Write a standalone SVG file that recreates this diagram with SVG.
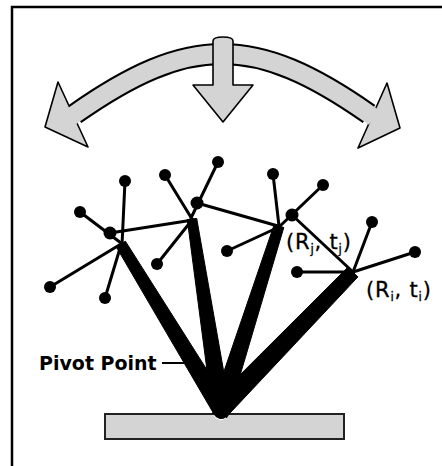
<svg xmlns="http://www.w3.org/2000/svg" width="442" height="466" viewBox="0 0 442 466">
  <style>
    .frame { fill: none; stroke: #000; stroke-width: 2.5; }
    .band-edge { fill: none; stroke: #000; stroke-width: 22; }
    .band-fill { fill: none; stroke: #d4d4d4; stroke-width: 18; }
    .gray { fill: #d4d4d4; stroke: #000; stroke-width: 1.6; stroke-linejoin: round; }
    .link { stroke: #000; stroke-width: 3; stroke-linecap: round; fill: none; }
    .beam { fill: #000; stroke: #000; stroke-width: 1; stroke-linejoin: round; }
    .dot { fill: #000; }
    .label { font-family: "DejaVu Sans", Verdana, sans-serif; font-size: 21px; letter-spacing: 0.8px; fill: #000; stroke: #000; stroke-width: 0.3; }
    .sub { font-size: 12px; }
    .title { font-family: "DejaVu Sans", Verdana, sans-serif; font-size: 19px; font-weight: bold; fill: #000; }
  </style>

  <rect width="442" height="466" fill="#fff"/>
  <path class="frame" d="M12,470 V7 H450"/>

  <!-- swinging double arrow with the downward arrow in front -->
  <g id="swing">
    <path class="band-edge" d="M75,114 C189,34 255,34 369,114"/>
    <polygon class="gray" points="45,127 58,82 88,147"/>
    <polygon class="gray" points="400,128 387,83 358,148"/>
    <path class="band-fill" d="M70,117.5 L75,114 C189,34 255,34 369,114 L374,117.5"/>
  </g>
  <g id="down-arrow">
    <path class="gray" d="M213,41 Q213,37 223,37 Q233,37 233,41 L233,85 L253,85 L223,122 L193,85 L213,85 Z"/>
  </g>

  <!-- platform under the pivot -->
  <g id="platform">
    <rect x="105" y="414" width="239" height="25" fill="#d4d4d4" stroke="#222" stroke-width="2"/>
  </g>

  <g id="connectors">
    <!-- thick tapered beams -->
    <polygon class="beam" points="228.8,404.3 213.2,412.7 116.2,246.8 125.4,241.2"/>
    <polygon class="beam" points="229.9,406.6 212.1,409.4 187.3,219.6 196.7,218.4"/>
    <polygon class="beam" points="229.6,410.7 212.4,405.3 274.2,224.5 283.8,227.5"/>
    <polygon class="beam" points="228.2,415.0 213.8,401.0 348.0,267.1 357.9,276.9"/>

    <!-- thin links -->
    <line class="link" x1="80" y1="212" x2="121" y2="243"/>
    <line class="link" x1="125" y1="181" x2="122" y2="245"/>
    <line class="link" x1="50" y1="287" x2="121" y2="244"/>
    <line class="link" x1="105" y1="298" x2="121" y2="245"/>
    <line class="link" x1="110" y1="233" x2="193" y2="220"/>

    <line class="link" x1="165" y1="175" x2="192" y2="219"/>
    <line class="link" x1="218" y1="162" x2="191" y2="218"/>
    <line class="link" x1="157" y1="264" x2="192" y2="220"/>
    <line class="link" x1="197" y1="203" x2="278" y2="226"/>

    <line class="link" x1="273" y1="174" x2="279" y2="226"/>
    <line class="link" x1="227" y1="251" x2="279" y2="227"/>
    <line class="link" x1="323" y1="185" x2="279" y2="227"/>
    <line class="link" x1="292" y1="215" x2="353" y2="272"/>

    <line class="link" x1="372" y1="222" x2="353" y2="272"/>
    <line class="link" x1="415" y1="252" x2="353" y2="272"/>
    <line class="link" x1="297" y1="272" x2="353" y2="272"/>

    <!-- leader for the pivot label -->
    <line x1="162" y1="363" x2="189" y2="363" stroke="#000" stroke-width="2"/>
  </g>

  <g id="pivot">
    <circle cx="221" cy="411" r="9" fill="#000"/>
    <path d="M213.5,415 A8.5,8.5 0 0 0 226,418" fill="none" stroke="#fff" stroke-width="1.2"/>
  </g>

  <!-- joint dots -->
  <g id="n1"><circle class="dot" cx="125" cy="181" r="6"/></g>
  <g id="n2"><circle class="dot" cx="80" cy="212" r="6"/></g>
  <g id="n3"><circle class="dot" cx="110" cy="233" r="6.5"/></g>
  <g id="n4"><circle class="dot" cx="50" cy="287" r="6"/></g>
  <g id="n5"><circle class="dot" cx="105" cy="298" r="6"/></g>
  <g id="n6"><circle class="dot" cx="165" cy="175" r="6"/></g>
  <g id="n7"><circle class="dot" cx="218" cy="162" r="6"/></g>
  <g id="n8"><circle class="dot" cx="197" cy="203" r="6.5"/></g>
  <g id="n9"><circle class="dot" cx="157" cy="264" r="6"/></g>
  <g id="n10"><circle class="dot" cx="273" cy="174" r="6"/></g>
  <g id="n11"><circle class="dot" cx="323" cy="185" r="6"/></g>
  <g id="n12"><circle class="dot" cx="292" cy="215" r="6.5"/></g>
  <g id="n13"><circle class="dot" cx="227" cy="251" r="6"/></g>
  <g id="n14"><circle class="dot" cx="372" cy="222" r="6"/></g>
  <g id="n15"><circle class="dot" cx="415" cy="252" r="6"/></g>
  <g id="n16"><circle class="dot" cx="297" cy="272" r="6"/></g>

  <!-- labels -->
  <text class="label" x="286" y="249">(R<tspan class="sub" dy="4">j</tspan><tspan dy="-4">, t</tspan><tspan class="sub" dy="4">j</tspan><tspan dy="-4">)</tspan></text>
  <text class="label" x="366" y="297">(R<tspan class="sub" dy="4">i</tspan><tspan dy="-4">, t</tspan><tspan class="sub" dy="4">i</tspan><tspan dy="-4">)</tspan></text>
  <text class="title" x="39" y="370">Pivot Point</text>
</svg>
